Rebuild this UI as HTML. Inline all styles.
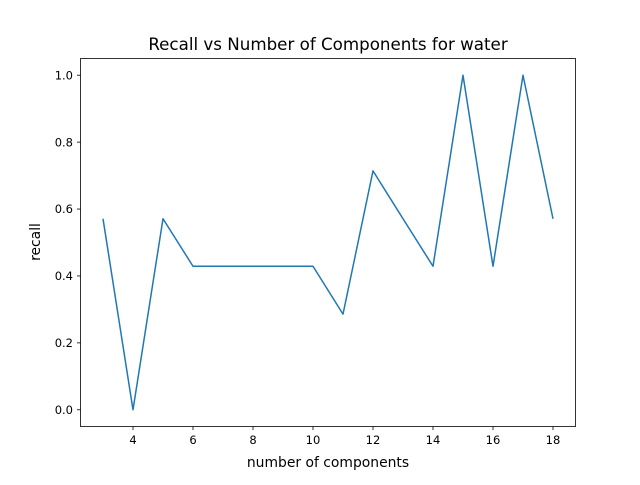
<!DOCTYPE html>
<html><head><meta charset="utf-8"><style>
body{margin:0;background:#fff;}
svg text{font-family:"DejaVu Sans","Liberation Sans",sans-serif;}
</style></head><body>
<svg id="chart" width="640" height="480" xmlns="http://www.w3.org/2000/svg">
<rect width="640" height="480" fill="#fff"/>
<text x="328" y="50" font-size="16.7" text-anchor="middle">Recall vs Number of Components for water</text>
<g id="xt"></g>
<g id="yt"></g>
<path id="line" fill="none" stroke="#1f77b4" stroke-width="1.5" stroke-linejoin="round"/>
<rect x="80.5" y="58.5" width="495" height="368" fill="none" stroke="#000" stroke-width="0.8"/>
<text x="328" y="467" font-size="13.9" text-anchor="middle">number of components</text>
<text transform="translate(40,242) rotate(-90)" font-size="13.9" text-anchor="middle">recall</text>
</svg>
<script>
const components=[3,4,5,6,7,8,9,10,11,12,13,14,15,16,17,18];
const recall=[0.571,0,0.571,0.429,0.429,0.429,0.429,0.429,0.286,0.714,0.571,0.429,1,0.429,1,0.571];
const xTicks=[4,6,8,10,12,14,16,18];
const yTicks=[0,0.2,0.4,0.6,0.8,1.0];
const yTickLabels=["0.0","0.2","0.4","0.6","0.8","1.0"];
const X=v=>80.5+(v-2.25)/(16.5)*495;
const Y=v=>426.5-(v+0.05)/1.1*368;
const NS="http://www.w3.org/2000/svg";
const xt=document.getElementById('xt'),yt=document.getElementById('yt');
xTicks.forEach(t=>{
 const l=document.createElementNS(NS,'line');
 l.setAttribute('x1',X(t));l.setAttribute('x2',X(t));l.setAttribute('y1',426.5);l.setAttribute('y2',430);l.setAttribute('stroke','#000');l.setAttribute('stroke-width','0.8');
 
 
 xt.appendChild(l);
 const s=document.createElementNS(NS,'text');
 s.setAttribute('x',X(t));s.setAttribute('y',444);s.setAttribute('font-size','11.5');s.setAttribute('text-anchor','middle');s.textContent=t;
 
 
 xt.appendChild(s);
});
yTicks.forEach((t,i)=>{
 const l=document.createElementNS(NS,'line');
 l.setAttribute('x1',77);l.setAttribute('x2',80.5);l.setAttribute('y1',Y(t));l.setAttribute('y2',Y(t));l.setAttribute('stroke','#000');l.setAttribute('stroke-width','0.8');
 
 
 yt.appendChild(l);
 const s=document.createElementNS(NS,'text');
 s.setAttribute('x',73);s.setAttribute('y',Y(t)+4.2);s.setAttribute('font-size','11.5');s.setAttribute('text-anchor','end');s.textContent=yTickLabels[i];
 
 
 yt.appendChild(s);
});
document.getElementById('line').setAttribute('d',components.map((c,i)=>(i?'L':'M')+X(c)+','+Y(recall[i])).join(' '));
</script>
</body></html>
